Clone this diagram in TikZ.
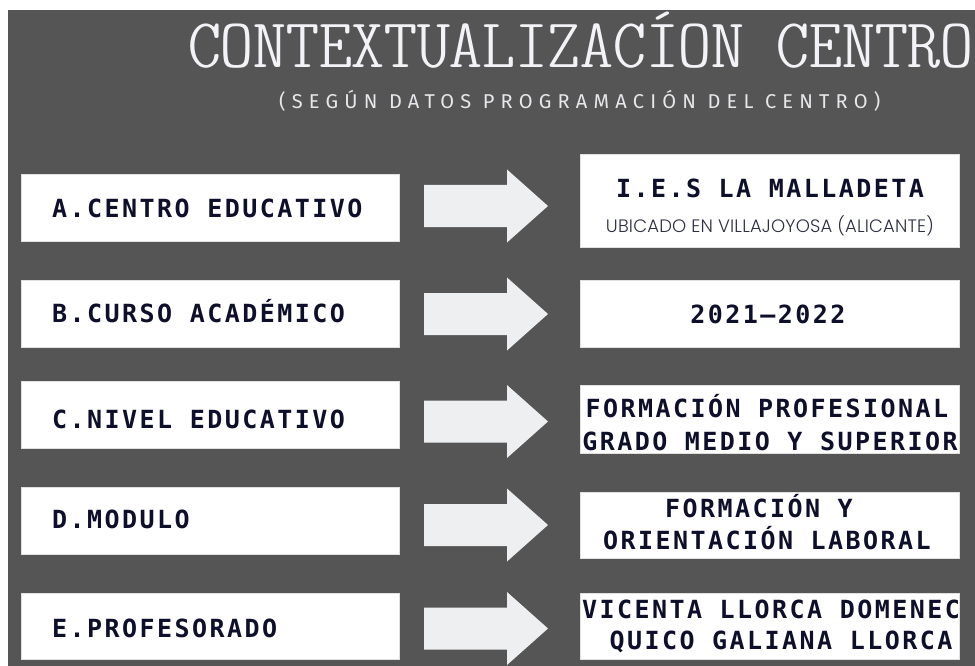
\documentclass[tikz,border=0pt]{standalone}
\usepackage{fontspec}
\IfFontExistsTF{lmmonoltcond10-regular.otf}{\newfontfamily\titlef{lmmonoltcond10-regular.otf}}{\newfontfamily\titlef{Liberation Mono}}
\IfFontExistsTF{FiraSans-Light.otf}{\newfontfamily\subf[LetterSpace=31]{FiraSans-Light.otf}}{\newfontfamily\subf[LetterSpace=31]{Fira Sans}}
\newfontfamily\labf[LetterSpace=9.8]{DejaVu Sans Mono}
\IfFontExistsTF{Poppins Light}{\newfontfamily\ubif[LetterSpace=1]{Poppins Light}}{\newfontfamily\ubif[LetterSpace=1]{Poppins}}
\definecolor{bg}{HTML}{555555}
\definecolor{arr}{HTML}{EEEFF1}
\definecolor{ink}{HTML}{0E0F2B}
\definecolor{ttl}{HTML}{F3F3F7}
\definecolor{subc}{HTML}{E8E8EC}
\definecolor{ubi}{HTML}{2E3042}
\newcommand\myarrow[1]{%
  \fill[arr] (424,{#1-21}) -- (507,{#1-21}) -- (507,{#1-36.5}) -- (548,#1)
    -- (507,{#1+36.5}) -- (507,{#1+21}) -- (424,{#1+21}) -- cycle;}
\begin{document}
\begin{tikzpicture}[x=1pt,y=-1pt,
  box/.style={fill=white,draw=black!12,line width=0.6pt,inner sep=0pt},
  lbox/.style={box,minimum width=378pt,minimum height=67pt},
  rbox/.style={box,minimum width=379pt},
  lab/.style={inner sep=0pt,text=ink,font=\labf\bfseries\fontsize{25}{25}\selectfont},
  labl/.style={lab,anchor=base west},
  labc/.style={lab,anchor=base}]
\useasboundingbox (0,0) rectangle (975,666);
\fill[white] (0,0) rectangle (975,666);
\fill[bg] (8,10) rectangle (975,666);
% title
\node[inner sep=0pt,anchor=base west,text=ttl,font=\titlef\fontsize{70}{70}\selectfont] (title) at (188,68) {\scalebox{1.335}[1]{CONTEXTUALIZACÍON CENTRO}};
\node[inner sep=0pt,anchor=base west,text=subc,font=\subf\fontsize{20}{20}\selectfont] (subtitle) at (279,109) {(SEGÚN DATOS PROGRAMACIÓN DEL CENTRO)};
% left boxes
\node[lbox] (la) at (210,207.5) {};
\node[lbox] (lb) at (210,313.5) {};
\node[lbox] (lc) at (210,414.5) {};
\node[lbox] (ld) at (210,520.5) {};
\node[lbox,minimum height=66pt] (le) at (210,626) {};
% right boxes
\node[rbox,minimum height=93pt] (ra) at (769.5,200.5) {};
\node[rbox,minimum height=67pt] (rb) at (769.5,313.5) {};
\node[rbox,minimum height=68pt] (rc) at (769.5,419) {};
\node[rbox,minimum height=66pt] (rd) at (769.5,525) {};
\node[rbox,minimum height=66pt] (re) at (769.5,626) {};
% arrows
\myarrow{206}
\myarrow{314}
\myarrow{421.5}
\myarrow{525}
\myarrow{628.5}
% left labels
\node[labl] (ta) at (52,217) {A.CENTRO EDUCATIVO};
\node[labl] (tb) at (52,322) {B.CURSO ACADÉMICO};
\node[labl] (tc) at (52,428) {C.NIVEL EDUCATIVO};
\node[labl] (td) at (52,528) {D.MODULO};
\node[labl] (te) at (52,637) {E.PROFESORADO};
% right texts
\node[labc] (ra1) at (770,197) {I.E.S LA MALLADETA};
\node[inner sep=0pt,anchor=base,text=ubi,font=\ubif\fontsize{18}{18}\selectfont] (ra2) at (770,233) {UBICADO EN VILLAJOYOSA (ALICANTE)};
\node[labc] (rb1) at (768,323) {2021–2022};
\node[labc] (rc1) at (767,417) {FORMACIÓN PROFESIONAL};
\node[labc] (rc2) at (770,450) {GRADO MEDIO Y SUPERIOR};
\node[labc] (rd1) at (759,517) {FORMACIÓN Y};
\node[labc] (rd2) at (767,549) {ORIENTACIÓN LABORAL};
\node[labc] (re1) at (771,618) {VICENTA LLORCA DOMENEC};
\node[labc] (re2) at (781,649) {QUICO GALIANA LLORCA};
\end{tikzpicture}
\end{document}
